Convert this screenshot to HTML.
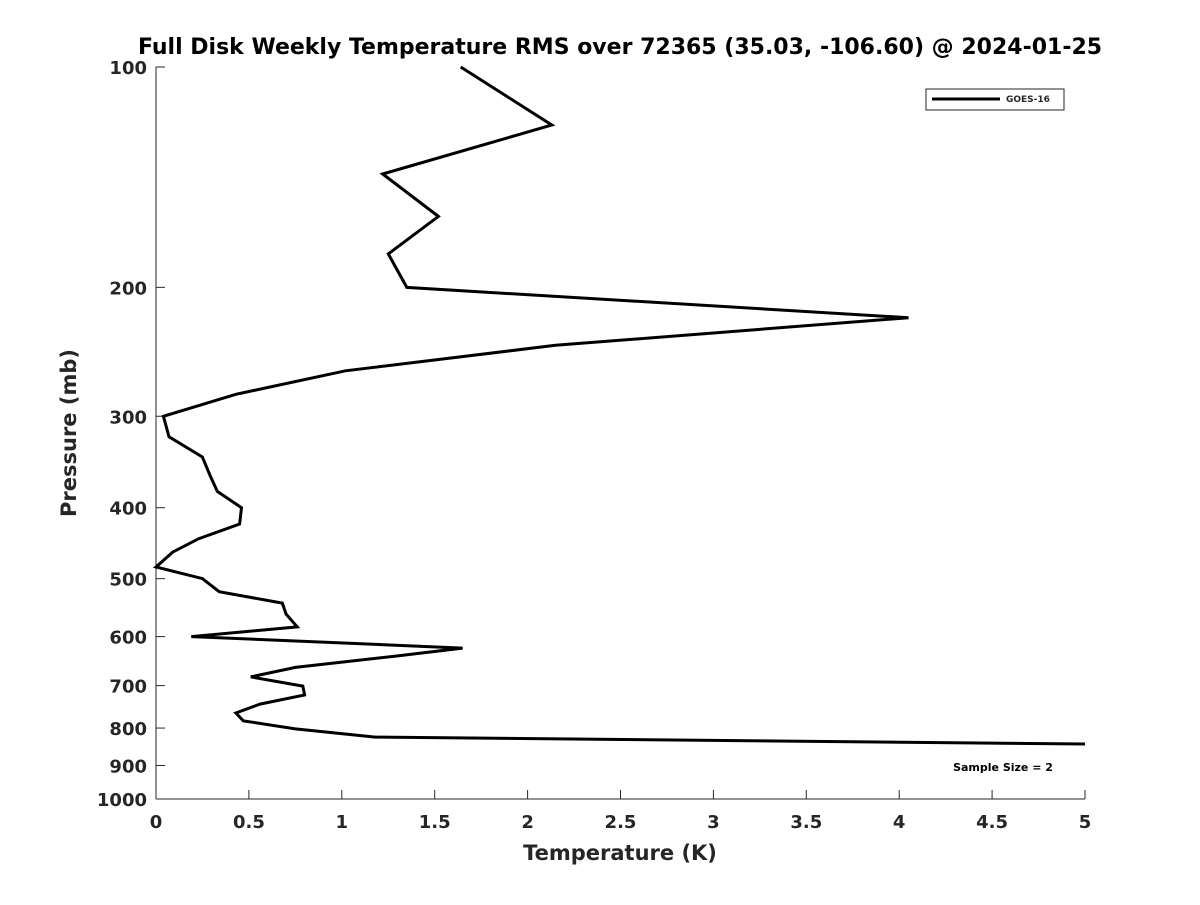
<!DOCTYPE html>
<html><head><meta charset="utf-8"><style>
body{margin:0;background:#fff;}
text{font-family:"DejaVu Sans","Liberation Sans",sans-serif;font-weight:bold;fill:#262626;}
</style></head><body>
<svg id="chart" width="1200" height="900" xmlns="http://www.w3.org/2000/svg">
<rect width="1200" height="900" fill="#fff"/>
<text x="620" y="54" text-anchor="middle" font-size="22" style="fill:#000">Full Disk Weekly Temperature RMS over 72365 (35.03, -106.60) @ 2024-01-25</text>
<g id="axes"></g>
<path id="line" fill="none" stroke="#000" stroke-width="3" stroke-linejoin="miter"/>
<g>
<rect x="926" y="89" width="138" height="21" fill="#fff" stroke="#262626" stroke-width="1"/>
<line x1="932" y1="99" x2="1000" y2="99" stroke="#000" stroke-width="3"/>
<text x="1006" y="102" font-size="9">GOES-16</text>
</g>
<text x="1003" y="771" text-anchor="middle" font-size="11" style="fill:#000">Sample Size = 2</text>
<text x="620" y="860" text-anchor="middle" font-size="21">Temperature (K)</text>
<text transform="translate(76,433) rotate(-90)" text-anchor="middle" font-size="21">Pressure (mb)</text>
</svg>
<script>
const temperatures=[1.64,2.13,1.22,1.52,1.25,1.35,4.05,2.15,1.02,0.43,0.04,0.07,0.25,0.29,0.33,0.46,0.45,0.23,0.09,0.0,0.25,0.34,0.68,0.70,0.76,0.19,1.65,1.29,0.75,0.51,0.79,0.80,0.56,0.43,0.47,0.75,1.18,5.0];
const pressures=[100,120,140,160,180,200,220,240,260,280,300,320,341,361,380,400,421,441,460,482,500,521,540,559,582,600,622,638,661,681,701,721,742,763,782,802,823,841];
const xTicks=[0,0.5,1,1.5,2,2.5,3,3.5,4,4.5,5];
const yTicks=[100,200,300,400,500,600,700,800,900,1000];
const X0=156,X1=1085,Y0=67,Y1=799;
function xs(v){return X0+(v-0)/(5-0)*(X1-X0);}
function ys(p){return Y0+Math.log10(p/100)*(Y1-Y0);}
const NS="http://www.w3.org/2000/svg";
const ax=document.getElementById('axes');
function mk(t,a,txt){const e=document.createElementNS(NS,t);for(const k in a)e.setAttribute(k,a[k]);if(txt!==undefined)e.textContent=txt;ax.appendChild(e);return e;}
let e=mk('line',{x1:X0,y1:Y0,x2:X0,y2:Y1,stroke:'#262626','stroke-width':1});


e=mk('line',{x1:X0,y1:Y1,x2:X1,y2:Y1,stroke:'#262626','stroke-width':1});


xTicks.forEach(v=>{
 mk('line',{x1:xs(v),y1:Y1,x2:xs(v),y2:Y1-9,stroke:'#262626'});
 const t=mk('text',{x:xs(v),y:Y1+29,'text-anchor':'middle','font-size':18},String(v));
 
 
});
yTicks.forEach(v=>{
 mk('line',{x1:X0,y1:ys(v),x2:X0+9,y2:ys(v),stroke:'#262626'});
 const t=mk('text',{x:X0-9,y:ys(v)+7,'text-anchor':'end','font-size':18},String(v));
 
 
});
document.getElementById('line').setAttribute('d',temperatures.map((t,i)=>(i?'L':'M')+xs(t).toFixed(1)+','+ys(pressures[i]).toFixed(1)).join(' '));
</script>
</body></html>
